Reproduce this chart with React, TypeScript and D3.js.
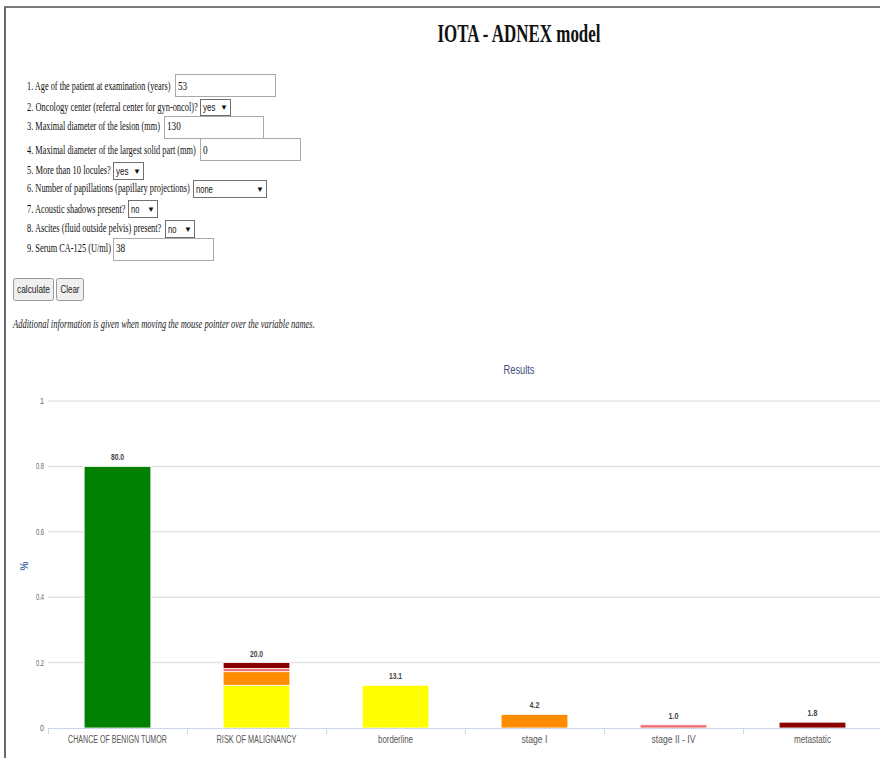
import React, { useMemo } from "react";
import * as d3 from "d3";

// ---------- data ----------
const categories = [
  "CHANCE OF BENIGN TUMOR",
  "RISK OF MALIGNANCY",
  "borderline",
  "stage I",
  "stage II - IV",
  "metastatic",
];
const seriesKeys = ["benign", "borderline", "stageI", "stageIIIV", "metastatic"];
const benignValues = [0.8, 0, 0, 0, 0, 0];
const borderlineValues = [0, 0.1306, 0.1306, 0, 0, 0];
const stageIValues = [0, 0.0417, 0, 0.0417, 0, 0];
const stageIIIVValues = [0, 0.0099, 0, 0, 0.0099, 0];
const metastaticValues = [0, 0.0178, 0, 0, 0, 0.0178];
const yTicks = [0, 0.2, 0.4, 0.6, 0.8, 1];

const formLabels = [
  "1. Age of the patient at examination (years)",
  "2. Oncology center (referral center for gyn-oncol)?",
  "3. Maximal diameter of the lesion (mm)",
  "4. Maximal diameter of the largest solid part (mm)",
  "5. More than 10 locules?",
  "6. Number of papillations (papillary projections)",
  "7. Acoustic shadows present?",
  "8. Ascites (fluid outside pelvis) present?",
  "9. Serum CA-125 (U/ml)",
];
const formValues = ["53", "yes", "130", "0", "yes", "none", "no", "no", "38"];
const formKinds = ["input", "select", "input", "input", "select", "select", "select", "select", "input"];

// ---------- styles / layout ----------
const seriesColors: Record<string, string> = {
  benign: "#008000",
  borderline: "#ffff00",
  stageI: "#ff8c00",
  stageIIIV: "#f07070",
  metastatic: "#8b0000",
};
const formBaselines = [90, 111, 130, 154, 174, 192, 213, 232, 252];
const formLabelWidths = [144, 171, 133, 169, 84, 163, 99, 135, 84];
const formBoxes = [
  [175, 74, 100, 22],
  [200, 99, 30, 16],
  [164, 116, 99, 22],
  [200, 138, 100, 22],
  [113, 162, 30, 17],
  [193, 180, 73, 17],
  [128, 200, 29, 17],
  [165, 220, 29, 17],
  [113, 238, 100, 22],
];
const catLabelWidths = [99, 80, 35, 26, 44, 37];

const W = 880;
const H = 758;
const plot = { left: 48, right: 882, top: 401, bottom: 728 };
const serif = "'Liberation Serif', 'Times New Roman', serif";
const sans = "'Liberation Sans', Arial, sans-serif";

let ctx: CanvasRenderingContext2D | null = null;
function measure(text: string, font: string): number {
  if (!ctx) ctx = document.createElement("canvas").getContext("2d");
  if (!ctx) return text.length * 6;
  ctx.font = font;
  return ctx.measureText(text).width;
}

type TProps = {
  x: number;
  y: number;
  w: number;
  size: number;
  family: string;
  weight?: string;
  italic?: boolean;
  anchor?: "start" | "middle" | "end";
  fill?: string;
  children: string;
};
function T({ x, y, w, size, family, weight = "normal", italic = false, anchor = "start", fill = "#111", children }: TProps) {
  const font = `${italic ? "italic " : ""}${weight} ${size}px ${family}`;
  const nat = measure(children, font) || 1;
  const sx = w / nat;
  return (
    <text
      transform={`translate(${x},${y}) scale(${sx},1)`}
      textAnchor={anchor}
      fontFamily={family}
      fontSize={size}
      fontWeight={weight}
      fontStyle={italic ? "italic" : "normal"}
      fill={fill}
    >
      {children}
    </text>
  );
}

export default function App() {
  const x = useMemo(
    () => d3.scaleBand<string>().domain(categories).range([plot.left, plot.right]).padding(0),
    []
  );
  const y = useMemo(() => d3.scaleLinear().domain([0, 1]).range([plot.bottom, plot.top]), []);

  const table = categories.map((c, i) => ({
    category: c,
    benign: benignValues[i],
    borderline: borderlineValues[i],
    stageI: stageIValues[i],
    stageIIIV: stageIIIVValues[i],
    metastatic: metastaticValues[i],
  }));
  const stacked = d3.stack<any>().keys(seriesKeys)(table);
  const totals = table.map((r) => seriesKeys.reduce((s, k) => s + (r as any)[k], 0));

  const bw = x.bandwidth();
  const barW = bw * 0.48;

  return (
    <svg width={W} height={H} style={{ position: "absolute", left: 0, top: 0, background: "#fff" }}>
      <rect x={0} y={0} width={W} height={H} fill="#fff" />
      {/* page frame */}
      <line x1={4} y1={7} x2={W} y2={7} stroke="#7a7a7a" strokeWidth={2} />
      <line x1={5} y1={7} x2={5} y2={H} stroke="#6a6a6a" strokeWidth={2} />

      {/* title */}
      <T x={519} y={42} w={165} size={26} family={serif} weight="bold" anchor="middle" fill="#111">
        IOTA - ADNEX model
      </T>

      {/* form */}
      {formLabels.map((lab, i) => {
        const [bx, by, bwid, bh] = formBoxes[i];
        const base = formBaselines[i];
        const isSel = formKinds[i] === "select";
        const val = formValues[i];
        return (
          <g key={i}>
            <T x={27} y={base} w={formLabelWidths[i]} size={12.5} family={serif}>
              {lab}
            </T>
            <rect
              x={bx + 0.5}
              y={by + 0.5}
              width={bwid}
              height={bh}
              fill="#fff"
              stroke={isSel ? "#6f6f6f" : "#a9a9a9"}
              strokeWidth={1}
            />
            {isSel ? (
              <T x={bx + 3} y={by + bh - 4} w={val.length * 4.2} size={10} family={sans}>
                {val}
              </T>
            ) : (
              <T x={bx + 3} y={base} w={val.length * 4.6} size={11.5} family={serif}>
                {val}
              </T>
            )}
            {isSel && (
              <text
                x={bx + bwid - 6}
                y={by + bh - 5}
                textAnchor="middle"
                fontFamily={sans}
                fontSize={8}
                fill="#111"
              >
                ▼
              </text>
            )}
          </g>
        );
      })}

      {/* buttons */}
      <rect x={13.5} y={278.5} width={40} height={22} rx={2} fill="#efefef" stroke="#9a9a9a" />
      <T x={33.5} y={293} w={33} size={11} family={sans} anchor="middle" fill="#222">
        calculate
      </T>
      <rect x={56.5} y={278.5} width={27} height={22} rx={2} fill="#efefef" stroke="#9a9a9a" />
      <T x={70} y={293} w={19} size={11} family={sans} anchor="middle" fill="#222">
        Clear
      </T>
      <T x={13} y={328} w={302} size={11.5} family={serif} italic fill="#222">
        Additional information is given when moving the mouse pointer over the variable names.
      </T>

      {/* chart title */}
      <T x={519} y={374} w={31} size={12} family={sans} anchor="middle" fill="#3d4f7c">
        Results
      </T>

      {/* y axis title */}
      <text
        transform={`translate(28,566) rotate(-90)`}
        textAnchor="middle"
        fontFamily={sans}
        fontSize={10}
        fontWeight="bold"
        fill="#4a6aa5"
      >
        %
      </text>

      {/* grid + y ticks */}
      {yTicks.map((t) => {
        const lbl = d3.format("~g")(t);
        return (
          <g key={t}>
            {t > 0 && (
              <line x1={plot.left} x2={W} y1={y(t)} y2={y(t)} stroke="#e3e3e3" strokeWidth={1.5} />
            )}
            <T x={44} y={y(t) + 3} w={lbl.length === 1 ? 4 : 8} size={9.5} family={sans} anchor="end" fill="#666">
              {lbl}
            </T>
          </g>
        );
      })}

      {/* bars */}
      {stacked.map((s) => (
        <g key={s.key} fill={seriesColors[s.key]}>
          {s.map((d, i) => {
            const h = y(d[0]) - y(d[1]);
            if (h <= 0) return null;
            const cx = (x(categories[i]) as number) + bw / 2;
            return (
              <rect
                key={i}
                x={cx - barW / 2}
                y={y(d[1])}
                width={barW}
                height={h}
                stroke="#fff"
                strokeWidth={0.8}
              />
            );
          })}
        </g>
      ))}

      {/* x axis */}
      <line x1={plot.left} x2={W} y1={plot.bottom + 0.5} y2={plot.bottom + 0.5} stroke="#ccd6eb" />
      {categories.map((c, i) => (
        <line
          key={"t" + i}
          x1={(x(c) as number) + 0.5}
          x2={(x(c) as number) + 0.5}
          y1={plot.bottom}
          y2={plot.bottom + 6}
          stroke="#ccd6eb"
        />
      ))}
      {categories.map((c, i) => (
        <T
          key={"l" + i}
          x={(x(c) as number) + bw / 2}
          y={743}
          w={catLabelWidths[i]}
          size={11}
          family={sans}
          anchor="middle"
          fill="#555"
        >
          {c}
        </T>
      ))}

      {/* data labels */}
      {totals.map((v, i) => {
        const lbl = (v * 100).toFixed(1);
        return (
          <T
            key={"d" + i}
            x={(x(categories[i]) as number) + bw / 2}
            y={y(v) - 6}
            w={lbl.length * 3.3}
            size={8.5}
            family={sans}
            weight="bold"
            anchor="middle"
            fill="#444"
          >
            {lbl}
          </T>
        );
      })}
    </svg>
  );
}
